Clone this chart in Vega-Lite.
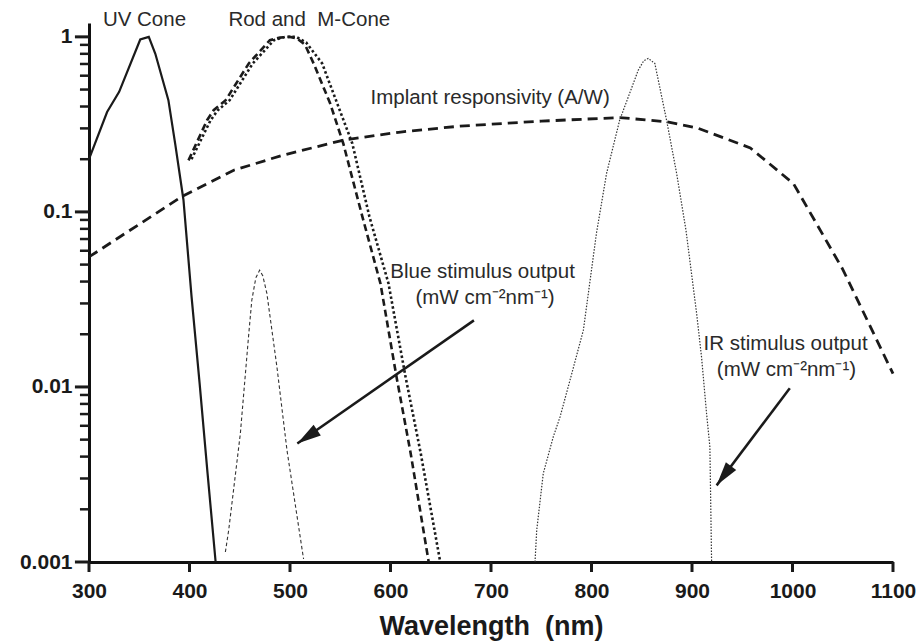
{
  "$schema": "https://vega.github.io/schema/vega-lite/v6.json",
  "autosize": "none",
  "width": 804,
  "height": 539,
  "padding": {"left": 89, "top": 23, "right": 28, "bottom": 81},
  "background": "white",
  "config": {"view": {"stroke": null}, "font": "Liberation Sans"},
  "datasets": {
    "curves": [
      {"series": "UV", "wl": 300, "val": 0.2},
      {"series": "UV", "wl": 318, "val": 0.372},
      {"series": "UV", "wl": 330, "val": 0.485},
      {"series": "UV", "wl": 351, "val": 0.966},
      {"series": "UV", "wl": 359.5, "val": 1.0},
      {"series": "UV", "wl": 366, "val": 0.8},
      {"series": "UV", "wl": 379, "val": 0.435},
      {"series": "UV", "wl": 386, "val": 0.24},
      {"series": "UV", "wl": 394, "val": 0.117},
      {"series": "UV", "wl": 402, "val": 0.033},
      {"series": "UV", "wl": 410, "val": 0.0106},
      {"series": "UV", "wl": 418, "val": 0.0032},
      {"series": "UV", "wl": 426, "val": 0.001},
      {"series": "Rod", "wl": 399, "val": 0.197},
      {"series": "Rod", "wl": 417.5, "val": 0.334},
      {"series": "Rod", "wl": 424, "val": 0.381},
      {"series": "Rod", "wl": 436, "val": 0.435},
      {"series": "Rod", "wl": 459, "val": 0.705},
      {"series": "Rod", "wl": 480, "val": 0.957},
      {"series": "Rod", "wl": 490, "val": 0.99},
      {"series": "Rod", "wl": 500, "val": 1.0},
      {"series": "Rod", "wl": 507, "val": 0.98},
      {"series": "Rod", "wl": 515, "val": 0.9},
      {"series": "Rod", "wl": 523.5, "val": 0.705},
      {"series": "Rod", "wl": 540, "val": 0.416},
      {"series": "Rod", "wl": 553, "val": 0.246},
      {"series": "Rod", "wl": 572, "val": 0.094},
      {"series": "Rod", "wl": 590, "val": 0.039},
      {"series": "Rod", "wl": 606, "val": 0.0114},
      {"series": "Rod", "wl": 620, "val": 0.0042},
      {"series": "Rod", "wl": 638, "val": 0.001},
      {"series": "MCone", "wl": 402, "val": 0.2},
      {"series": "MCone", "wl": 421, "val": 0.334},
      {"series": "MCone", "wl": 428, "val": 0.38},
      {"series": "MCone", "wl": 440, "val": 0.435},
      {"series": "MCone", "wl": 463, "val": 0.705},
      {"series": "MCone", "wl": 484, "val": 0.957},
      {"series": "MCone", "wl": 495, "val": 1.0},
      {"series": "MCone", "wl": 506, "val": 1.0},
      {"series": "MCone", "wl": 516, "val": 0.93},
      {"series": "MCone", "wl": 532, "val": 0.705},
      {"series": "MCone", "wl": 547, "val": 0.416},
      {"series": "MCone", "wl": 562, "val": 0.246},
      {"series": "MCone", "wl": 579, "val": 0.094},
      {"series": "MCone", "wl": 598, "val": 0.039},
      {"series": "MCone", "wl": 615, "val": 0.0114},
      {"series": "MCone", "wl": 630, "val": 0.0042},
      {"series": "MCone", "wl": 649.5, "val": 0.001},
      {"series": "Implant", "wl": 300, "val": 0.0553},
      {"series": "Implant", "wl": 350, "val": 0.085},
      {"series": "Implant", "wl": 392, "val": 0.122},
      {"series": "Implant", "wl": 444, "val": 0.173},
      {"series": "Implant", "wl": 493, "val": 0.211},
      {"series": "Implant", "wl": 553, "val": 0.257},
      {"series": "Implant", "wl": 610, "val": 0.286},
      {"series": "Implant", "wl": 669, "val": 0.309},
      {"series": "Implant", "wl": 750, "val": 0.33},
      {"series": "Implant", "wl": 828, "val": 0.346},
      {"series": "Implant", "wl": 875, "val": 0.327},
      {"series": "Implant", "wl": 905, "val": 0.302},
      {"series": "Implant", "wl": 958, "val": 0.232},
      {"series": "Implant", "wl": 1001, "val": 0.145},
      {"series": "Implant", "wl": 1050, "val": 0.047},
      {"series": "Implant", "wl": 1100, "val": 0.0119},
      {"series": "Blue", "wl": 435.7, "val": 0.00114},
      {"series": "Blue", "wl": 439, "val": 0.00152},
      {"series": "Blue", "wl": 450.6, "val": 0.00542},
      {"series": "Blue", "wl": 459, "val": 0.0202},
      {"series": "Blue", "wl": 462, "val": 0.0313},
      {"series": "Blue", "wl": 466, "val": 0.042},
      {"series": "Blue", "wl": 469.8, "val": 0.0465},
      {"series": "Blue", "wl": 473, "val": 0.043},
      {"series": "Blue", "wl": 477, "val": 0.0342},
      {"series": "Blue", "wl": 487, "val": 0.013},
      {"series": "Blue", "wl": 497, "val": 0.00435},
      {"series": "Blue", "wl": 513.5, "val": 0.00104},
      {"series": "IR", "wl": 743.8, "val": 0.001},
      {"series": "IR", "wl": 745.5, "val": 0.00152},
      {"series": "IR", "wl": 752, "val": 0.0032},
      {"series": "IR", "wl": 762, "val": 0.0052},
      {"series": "IR", "wl": 768.7, "val": 0.00674},
      {"series": "IR", "wl": 780, "val": 0.0117},
      {"series": "IR", "wl": 791.9, "val": 0.0211},
      {"series": "IR", "wl": 805, "val": 0.076},
      {"series": "IR", "wl": 815, "val": 0.166},
      {"series": "IR", "wl": 828, "val": 0.334},
      {"series": "IR", "wl": 846.5, "val": 0.645},
      {"series": "IR", "wl": 852, "val": 0.73},
      {"series": "IR", "wl": 856.5, "val": 0.753},
      {"series": "IR", "wl": 863, "val": 0.705},
      {"series": "IR", "wl": 874.7, "val": 0.334},
      {"series": "IR", "wl": 884.7, "val": 0.166},
      {"series": "IR", "wl": 894, "val": 0.0786},
      {"series": "IR", "wl": 904.6, "val": 0.0263},
      {"series": "IR", "wl": 909.5, "val": 0.0148},
      {"series": "IR", "wl": 914.5, "val": 0.00705},
      {"series": "IR", "wl": 917.8, "val": 0.00454},
      {"series": "IR", "wl": 919.5, "val": 0.001}
    ],
    "arrows": [
      {"name": "blue", "wl": 683, "val": 0.024, "wl2": 507.3, "val2": 0.00475},
      {"name": "ir", "wl": 997.3, "val": 0.00984, "wl2": 924.5, "val2": 0.00274}
    ],
    "labels": [
      {"wl": 355.2, "val": 1.246, "text": "UV Cone"},
      {"wl": 519.2, "val": 1.246, "text": "Rod and\u00a0\u00a0M-Cone"},
      {"wl": 699.1, "val": 0.4446, "text": "Implant responsivity (A/W)"},
      {"wl": 691.6, "val": 0.0454, "text": "Blue stimulus output"},
      {"wl": 694.1, "val": 0.0321, "text": "(mW cm\u207b\u00b2nm\u207b\u00b9)"},
      {"wl": 993.1, "val": 0.0177, "text": "IR stimulus output"},
      {"wl": 994, "val": 0.01246, "text": "(mW cm\u207b\u00b2nm\u207b\u00b9)"}
    ],
    "ticks": [
      {"kind": "x", "wl": 300, "wl2": 300, "val": 0.001, "val2": 0.000877},
      {"kind": "x", "wl": 400, "wl2": 400, "val": 0.001, "val2": 0.000877},
      {"kind": "x", "wl": 500, "wl2": 500, "val": 0.001, "val2": 0.000877},
      {"kind": "x", "wl": 600, "wl2": 600, "val": 0.001, "val2": 0.000877},
      {"kind": "x", "wl": 700, "wl2": 700, "val": 0.001, "val2": 0.000877},
      {"kind": "x", "wl": 800, "wl2": 800, "val": 0.001, "val2": 0.000877},
      {"kind": "x", "wl": 900, "wl2": 900, "val": 0.001, "val2": 0.000877},
      {"kind": "x", "wl": 1000, "wl2": 1000, "val": 0.001, "val2": 0.000877},
      {"kind": "x", "wl": 1100, "wl2": 1100, "val": 0.001, "val2": 0.000877},
      {"kind": "ymajor", "wl": 300, "wl2": 286, "val": 0.001, "val2": 0.001},
      {"kind": "ymajor", "wl": 300, "wl2": 286, "val": 0.01, "val2": 0.01},
      {"kind": "ymajor", "wl": 300, "wl2": 286, "val": 0.1, "val2": 0.1},
      {"kind": "ymajor", "wl": 300, "wl2": 286, "val": 1, "val2": 1},
      {"kind": "yminor", "wl": 300, "wl2": 291, "val": 0.002, "val2": 0.002},
      {"kind": "yminor", "wl": 300, "wl2": 291, "val": 0.003, "val2": 0.003},
      {"kind": "yminor", "wl": 300, "wl2": 291, "val": 0.004, "val2": 0.004},
      {"kind": "yminor", "wl": 300, "wl2": 291, "val": 0.005, "val2": 0.005},
      {"kind": "yminor", "wl": 300, "wl2": 291, "val": 0.006, "val2": 0.006},
      {"kind": "yminor", "wl": 300, "wl2": 291, "val": 0.007, "val2": 0.007},
      {"kind": "yminor", "wl": 300, "wl2": 291, "val": 0.008, "val2": 0.008},
      {"kind": "yminor", "wl": 300, "wl2": 291, "val": 0.009, "val2": 0.009},
      {"kind": "yminor", "wl": 300, "wl2": 291, "val": 0.02, "val2": 0.02},
      {"kind": "yminor", "wl": 300, "wl2": 291, "val": 0.03, "val2": 0.03},
      {"kind": "yminor", "wl": 300, "wl2": 291, "val": 0.04, "val2": 0.04},
      {"kind": "yminor", "wl": 300, "wl2": 291, "val": 0.05, "val2": 0.05},
      {"kind": "yminor", "wl": 300, "wl2": 291, "val": 0.06, "val2": 0.06},
      {"kind": "yminor", "wl": 300, "wl2": 291, "val": 0.07, "val2": 0.07},
      {"kind": "yminor", "wl": 300, "wl2": 291, "val": 0.08, "val2": 0.08},
      {"kind": "yminor", "wl": 300, "wl2": 291, "val": 0.09, "val2": 0.09},
      {"kind": "yminor", "wl": 300, "wl2": 291, "val": 0.2, "val2": 0.2},
      {"kind": "yminor", "wl": 300, "wl2": 291, "val": 0.3, "val2": 0.3},
      {"kind": "yminor", "wl": 300, "wl2": 291, "val": 0.4, "val2": 0.4},
      {"kind": "yminor", "wl": 300, "wl2": 291, "val": 0.5, "val2": 0.5},
      {"kind": "yminor", "wl": 300, "wl2": 291, "val": 0.6, "val2": 0.6},
      {"kind": "yminor", "wl": 300, "wl2": 291, "val": 0.7, "val2": 0.7},
      {"kind": "yminor", "wl": 300, "wl2": 291, "val": 0.8, "val2": 0.8},
      {"kind": "yminor", "wl": 300, "wl2": 291, "val": 0.9, "val2": 0.9}
    ]
  },
  "encoding": {
    "x": {
      "field": "wl", "type": "quantitative",
      "scale": {"domain": [300, 1100], "nice": false, "zero": false},
      "axis": {
        "values": [300, 400, 500, 600, 700, 800, 900, 1000, 1100],
        "format": "d",
        "grid": false,
        "domainWidth": 3, "domainColor": "#111",
        "ticks": false,
        "labelFont": "Liberation Sans", "labelFontWeight": "bold", "labelFontSize": 21,
        "labelColor": "#1a1a1a", "labelPadding": 18, "labelFlush": false, "labelOverlap": false,
        "title": "Wavelength\u00a0\u00a0(nm)",
        "titleFont": "Liberation Sans", "titleFontWeight": "bold", "titleFontSize": 27,
        "titleColor": "#1a1a1a", "titlePadding": 12
      }
    },
    "y": {
      "field": "val", "type": "quantitative",
      "scale": {"type": "log", "domain": [0.001, 1.2], "nice": false},
      "axis": {
        "values": [0.001, 0.01, 0.1, 1],
        "labelExpr": "datum.value == 1 ? '1' : datum.value == 0.1 ? '0.1' : datum.value == 0.01 ? '0.01' : '0.001'",
        "grid": false,
        "domainWidth": 3, "domainColor": "#111",
        "ticks": false,
        "labelFont": "Liberation Sans", "labelFontWeight": "bold", "labelFontSize": 21,
        "labelColor": "#1a1a1a", "labelPadding": 17, "labelFlush": false, "labelOverlap": false,
        "title": null
      }
    }
  },
  "layer": [
    {
      "data": {"name": "curves"},
      "transform": [{"filter": "datum.series == 'UV'"}],
      "mark": {"type": "line", "color": "#1a1a1a", "strokeWidth": 2.2}
    },
    {
      "data": {"name": "curves"},
      "transform": [{"filter": "datum.series == 'Rod'"}],
      "mark": {"type": "line", "color": "#1a1a1a", "strokeWidth": 2.6, "strokeDash": [7, 4]}
    },
    {
      "data": {"name": "curves"},
      "transform": [{"filter": "datum.series == 'MCone'"}],
      "mark": {"type": "line", "color": "#1a1a1a", "strokeWidth": 2.6, "strokeDash": [2.5, 2.5]}
    },
    {
      "data": {"name": "curves"},
      "transform": [{"filter": "datum.series == 'Implant'"}],
      "mark": {"type": "line", "color": "#1a1a1a", "strokeWidth": 2.8, "strokeDash": [10, 6]}
    },
    {
      "data": {"name": "curves"},
      "transform": [{"filter": "datum.series == 'Blue'"}],
      "mark": {"type": "line", "color": "#333", "strokeWidth": 1.1, "strokeDash": [3.5, 2.5]}
    },
    {
      "data": {"name": "curves"},
      "transform": [{"filter": "datum.series == 'IR'"}],
      "mark": {"type": "line", "color": "#333", "strokeWidth": 1.2, "strokeDash": [1.5, 1.5]}
    },
    {
      "data": {"name": "arrows"},
      "mark": {"type": "rule", "color": "#1a1a1a", "strokeWidth": 2.5},
      "encoding": {"x2": {"field": "wl2"}, "y2": {"field": "val2"}}
    },
    {
      "data": {"name": "arrows"},
      "transform": [{"filter": "datum.name == 'blue'"}],
      "mark": {"type": "point", "shape": "M0,0L-0.27,1L0.27,1Z", "size": 2300, "angle": 236, "filled": true, "color": "#1a1a1a", "opacity": 1},
      "encoding": {"x": {"field": "wl2", "type": "quantitative"}, "y": {"field": "val2", "type": "quantitative"}}
    },
    {
      "data": {"name": "arrows"},
      "transform": [{"filter": "datum.name == 'ir'"}],
      "mark": {"type": "point", "shape": "M0,0L-0.27,1L0.27,1Z", "size": 2300, "angle": 217, "filled": true, "color": "#1a1a1a", "opacity": 1},
      "encoding": {"x": {"field": "wl2", "type": "quantitative"}, "y": {"field": "val2", "type": "quantitative"}}
    },
    {
      "data": {"name": "ticks"},
      "transform": [{"filter": "datum.kind != 'yminor'"}],
      "mark": {"type": "rule", "color": "#1a1a1a", "strokeWidth": 3},
      "encoding": {"x2": {"field": "wl2"}, "y2": {"field": "val2"}}
    },
    {
      "data": {"name": "ticks"},
      "transform": [{"filter": "datum.kind == 'yminor'"}],
      "mark": {"type": "rule", "color": "#1a1a1a", "strokeWidth": 2.5},
      "encoding": {"x2": {"field": "wl2"}, "y2": {"field": "val2"}}
    },
    {
      "data": {"name": "labels"},
      "mark": {"type": "text", "font": "Liberation Sans", "fontSize": 20.5, "color": "#2a2a2a", "align": "center", "baseline": "middle"},
      "encoding": {"text": {"field": "text"}}
    }
  ]
}
